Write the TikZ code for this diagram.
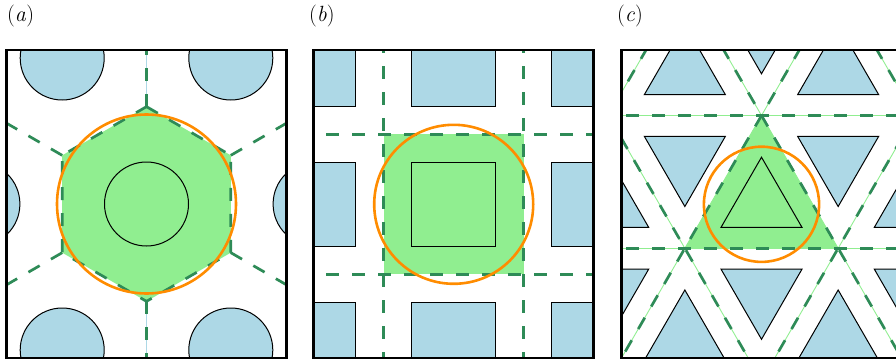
\documentclass[tikz,border=0pt]{standalone}
\usepackage{fontspec}
\definecolor{lblue}{HTML}{ADD8E6}
\definecolor{lgreen}{HTML}{90EE90}
\definecolor{sgreen}{HTML}{2E8B57}
\definecolor{dorange}{HTML}{FF8C00}
\begin{document}
\begin{tikzpicture}[x=1pt,y=-1pt,
  frame/.style={draw=black, line width=2.6pt},
  inclusion/.style={fill=lblue, draw=black, line width=1pt},
  innershape/.style={draw=black, line width=1pt},
  cellline/.style={draw=sgreen, line width=2.7pt, dash pattern=on 13pt off 13pt},
  thinline/.style={line width=0.9pt},
  eqcircle/.style={draw=dorange, line width=2.6pt},
  lbl/.style={font=\fontsize{22}{26}\selectfont, anchor=base west, inner sep=0pt}]
\useasboundingbox (0,0) rectangle (896,361);

% ---------- labels
\node[lbl] (la) at (7,22) {(\textit{a})};
\node[lbl] (lb) at (309,22) {(\textit{b})};
\node[lbl] (lc) at (617,22) {(\textit{c})};

% ---------- panel (a): hexagonal lattice
\begin{scope}
\clip (6.5,50) rectangle (286.5,358);
\fill[lgreen] (146.5,106.66) -- (230.8,155.33) -- (230.8,252.67) -- (146.5,301.34) -- (62.2,252.67) -- (62.2,155.33) -- cycle;
\foreach \x/\y in {62.2/58, 230.8/58, -22.1/204, 315.1/204, 62.2/350, 230.8/350}
  \draw[inclusion] (\x,\y) circle[radius=42];
\draw[lblue, thinline] (146.5,40) -- (146.5,106.66);
\draw[lblue, thinline] (146.5,301.34) -- (146.5,370);
\draw[cellline] (146.5,106.66) -- (230.8,155.33) -- (230.8,252.67) -- (146.5,301.34) -- (62.2,252.67) -- (62.2,155.33) -- cycle;
\draw[cellline] (146.5,106.66) -- (146.5,9.3);
\draw[cellline] (146.5,301.34) -- (146.5,398.7);
\draw[cellline] (230.8,155.33) -- (315.1,106.66);
\draw[cellline] (230.8,252.67) -- (315.1,301.34);
\draw[cellline] (62.2,155.33) -- (-22.1,106.66);
\draw[cellline] (62.2,252.67) -- (-22.1,301.34);
\draw[innershape] (146.5,204) circle[radius=42];
\draw[eqcircle] (146.5,204) circle[radius=89.5];
\end{scope}
\draw[frame] (6.5,50) rectangle (286.5,358);

% ---------- panel (b): square lattice
\begin{scope}
\clip (313.5,50) rectangle (593.5,358);
\fill[lgreen] (383.7,134.3) rectangle (523.7,274.3);
\foreach \i in {-1,0,1} \foreach \j in {-1,0,1} {
  \pgfmathtruncatemacro\isctr{(\i==0)&&(\j==0)}
  \ifnum\isctr=0
    \draw[inclusion] ({453.7+140*\i-42},{204.3+140*\j-42}) rectangle ({453.7+140*\i+42},{204.3+140*\j+42});
  \fi
}
\draw[cellline] (383.7,40) -- (383.7,370);
\draw[cellline] (523.7,40) -- (523.7,370);
\draw[cellline] (300,134.3) -- (610,134.3);
\draw[cellline] (300,274.3) -- (610,274.3);
\draw[innershape] (411.7,162.3) rectangle (495.7,246.3);
\draw[eqcircle] (453.7,204.3) circle[radius=79.5];
\end{scope}
\draw[frame] (313.5,50) rectangle (593.5,358);

% ---------- panel (c): triangular lattice
\begin{scope}
\clip (621.5,50) rectangle (901.5,358);
\foreach \i in {-3,...,3} \foreach \j in {-2,...,2} {
  \pgfmathsetmacro\cx{761.5+153.3*\i+76.65*\j}
  \pgfmathsetmacro\cy{204+132.76*\j}
  \pgfmathsetmacro\dx{\cx+76.65}
  \pgfmathsetmacro\dy{\cy-44.25}
  \pgfmathtruncatemacro\isctr{(\i==0)&&(\j==0)}
  \ifnum\isctr=0
    \draw[inclusion] (\cx,{\cy-46.77}) -- ({\cx+40.5},{\cy+23.38}) -- ({\cx-40.5},{\cy+23.38}) -- cycle;
  \fi
  \draw[inclusion] (\dx,{\dy+46.77}) -- ({\dx+40.5},{\dy-23.38}) -- ({\dx-40.5},{\dy-23.38}) -- cycle;
}
\fill[lgreen] (761.5,115.49) -- (838.15,248.25) -- (684.85,248.25) -- cycle;
\foreach \k in {-2,...,2} {
  \pgfmathsetmacro\xa{684.85+153.3*\k}
  \pgfmathsetmacro\xb{838.15+153.3*\k}
  \draw[lgreen, thinline] ({\xa+154.9},-20) -- ({\xa-87.6},400);
  \draw[lgreen, thinline] ({\xb-154.9},-20) -- ({\xb+87.6},400);
}
\draw[lgreen, thinline] (600,115.49) -- (920,115.49);
\draw[lgreen, thinline] (600,248.25) -- (920,248.25);
\foreach \k in {-2,...,2} {
  \pgfmathsetmacro\xa{684.85+153.3*\k}
  \pgfmathsetmacro\xb{838.15+153.3*\k}
  \draw[cellline] ({\xa+154.9},-20) -- ({\xa-87.6},400);
  \draw[cellline] ({\xb-154.9},-20) -- ({\xb+87.6},400);
}
\draw[cellline] (600,115.49) -- (920,115.49);
\draw[cellline] (600,248.25) -- (920,248.25);
\draw[innershape] (761.5,157.23) -- (802,227.38) -- (721,227.38) -- cycle;
\draw[eqcircle] (761.5,204.3) circle[radius=57.6];
\end{scope}
\draw[frame] (621.5,50) rectangle (901.5,358);
\end{tikzpicture}
\end{document}
